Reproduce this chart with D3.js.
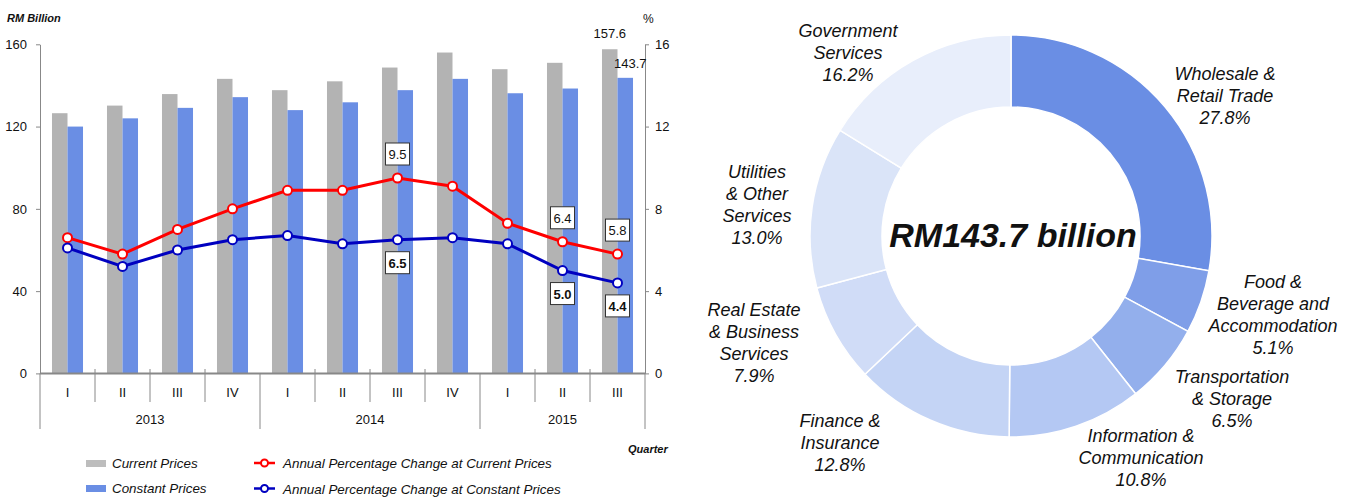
<!DOCTYPE html>
<html>
<head>
<meta charset="utf-8">
<script src="https://cdn.jsdelivr.net/npm/d3@7"></script>
<style>
body { margin: 0; background: #fff; }
svg text { font-family: "Liberation Sans", Arial, sans-serif; fill: #111; }
svg text.narrow { font-family: "Liberation Sans Narrow", "Arial Narrow", "Liberation Sans", sans-serif; }
</style>
</head>
<body>
<script>
/*
data
*/
var quarters = ["I", "II", "III", "IV", "I", "II", "III", "IV", "I", "II", "III"];
var quarterYear = ["2013", "2013", "2013", "2013", "2014", "2014", "2014", "2014", "2015", "2015", "2015"];
var currentPrices = [126.5, 130.2, 135.8, 143.2, 137.7, 142.0, 148.7, 156.0, 147.9, 151.0, 157.6];
var constantPrices = [120.0, 124.0, 129.1, 134.3, 128.0, 131.8, 137.7, 143.2, 136.2, 138.5, 143.7];
var pctCurrent = [6.6, 5.8, 7.0, 8.0, 8.9, 8.9, 9.5, 9.1, 7.3, 6.4, 5.8];
var pctConstant = [6.1, 5.2, 6.0, 6.5, 6.7, 6.3, 6.5, 6.6, 6.3, 5.0, 4.4];
var boxedPoints = [6, 9, 10];
var leftTicks = [0, 40, 80, 120, 160];
var rightTicks = [0, 4, 8, 12, 16];

var sectors = [
  ["Wholesale &", "Retail Trade"],
  ["Food &", "Beverage and", "Accommodation"],
  ["Transportation", "& Storage"],
  ["Information &", "Communication"],
  ["Finance &", "Insurance"],
  ["Real Estate", "& Business", "Services"],
  ["Utilities", "& Other", "Services"],
  ["Government", "Services"]
];
var shares = [27.8, 5.1, 6.5, 10.8, 12.8, 7.9, 13.0, 16.2];
var centreTotal = "RM143.7 billion";

// layout only
var sectorColors = ["#6a8ee4", "#7f9ee8", "#93afec", "#b4c8f3", "#c4d4f5", "#d0dcf7", "#dae4f8", "#e8eefb"];
var labelOffset = [[214, -140], [262, 79], [221, 163], [130, 222], [-171, 207], [-257, 107], [-254, -31], [-163, -183]];

var width = 1354,
    height = 497;

var svg = d3.select("body").append("svg")
    .attr("width", width)
    .attr("height", height);

/*
left chart
*/
var x = d3.scaleBand()
    .domain(d3.range(quarters.length))
    .range([40, 645])
    .paddingInner(0.436)
    .paddingOuter(0.218);

var xs = d3.scaleBand()
    .domain(["current", "constant"])
    .range([0, x.bandwidth()]);

var y = d3.scaleLinear().domain([0, 160]).range([373.4, 44.3]);
var y2 = d3.scaleLinear().domain([0, 16]).range([373.4, 44.3]);

function cx(i) { return x(i) + x.bandwidth() / 2; }

var bars = svg.append("g");
bars.selectAll(".cur")
    .data(currentPrices)
    .enter().append("rect")
    .attr("x", function(d, i) { return x(i) + xs("current"); })
    .attr("y", function(d) { return y(d); })
    .attr("width", xs.bandwidth())
    .attr("height", function(d) { return y(0) - y(d); })
    .attr("fill", "#b3b3b3");

bars.selectAll(".con")
    .data(constantPrices)
    .enter().append("rect")
    .attr("x", function(d, i) { return x(i) + xs("constant"); })
    .attr("y", function(d) { return y(d); })
    .attr("width", xs.bandwidth())
    .attr("height", function(d) { return y(0) - y(d); })
    .attr("fill", "#6a8ee4");

// axes
var leftAxis = svg.append("g")
    .attr("transform", "translate(40,0)")
    .call(d3.axisLeft(y).tickValues(leftTicks).tickSizeInner(4).tickSizeOuter(0).tickPadding(9));
var rightAxis = svg.append("g")
    .attr("transform", "translate(645,0)")
    .call(d3.axisRight(y2).tickValues(rightTicks).tickSizeInner(4).tickSizeOuter(0).tickPadding(6));

[leftAxis, rightAxis].forEach(function(a) {
  a.select(".domain").attr("stroke", "#888");
  a.selectAll(".tick line").attr("stroke", "#888");
  a.selectAll(".tick text")
    .attr("class", "narrow")
    .style("font-size", "13px")
    .attr("fill", "#111");
});

// category axis
var cat = svg.append("g");
cat.append("line")
    .attr("x1", 40).attr("x2", 645)
    .attr("y1", y(0)).attr("y2", y(0))
    .attr("stroke", "#888").attr("stroke-width", 2);

[40, 645].forEach(function(px) {
  cat.append("line")
      .attr("x1", px).attr("x2", px)
      .attr("y1", y(0)).attr("y2", 429)
      .attr("stroke", "#888");
});

d3.range(1, quarters.length).forEach(function(i) {
  var bx = (x(i - 1) + x.bandwidth() + x(i)) / 2;
  var yearEdge = quarterYear[i] != quarterYear[i - 1];
  cat.append("line")
      .attr("x1", bx).attr("x2", bx)
      .attr("y1", yearEdge ? y(0) : 369)
      .attr("y2", yearEdge ? 429 : 402)
      .attr("stroke", "#888");
});

cat.selectAll(".q")
    .data(quarters)
    .enter().append("text")
    .attr("class", "narrow")
    .attr("x", function(d, i) { return cx(i); })
    .attr("y", 397)
    .attr("text-anchor", "middle")
    .style("font-size", "13px")
    .text(function(d) { return d; });

var yearList = Array.from(new Set(quarterYear));
cat.selectAll(".yr")
    .data(yearList)
    .enter().append("text")
    .attr("class", "narrow")
    .attr("x", function(yr) {
      var idx = d3.range(quarters.length).filter(function(i) { return quarterYear[i] == yr; });
      var first = idx[0], last = idx[idx.length - 1];
      var left = first == 0 ? 40 : (x(first - 1) + x.bandwidth() + x(first)) / 2;
      var right = last == quarters.length - 1 ? 645 : (x(last) + x.bandwidth() + x(last + 1)) / 2;
      return (left + right) / 2;
    })
    .attr("y", 424)
    .attr("text-anchor", "middle")
    .style("font-size", "13px")
    .text(function(d) { return d; });

// titles
svg.append("text")
    .attr("x", 7).attr("y", 22)
    .style("font-size", "11px").style("font-weight", "bold").style("font-style", "italic")
    .text("RM Billion");
svg.append("text")
    .attr("x", 643).attr("y", 23)
    .style("font-size", "12px")
    .text("%");
svg.append("text")
    .attr("x", 628).attr("y", 453)
    .style("font-size", "11px").style("font-weight", "bold").style("font-style", "italic")
    .text("Quarter");

// lines
function drawLine(values, color) {
  var line = d3.line()
      .x(function(d, i) { return cx(i); })
      .y(function(d) { return y2(d); });
  svg.append("path")
      .datum(values)
      .attr("d", line)
      .attr("fill", "none")
      .attr("stroke", color)
      .attr("stroke-width", 3);
  svg.append("g").selectAll("circle")
      .data(values)
      .enter().append("circle")
      .attr("cx", function(d, i) { return cx(i); })
      .attr("cy", function(d) { return y2(d); })
      .attr("r", 4.5)
      .attr("fill", "#fff")
      .attr("stroke", color)
      .attr("stroke-width", 2);
}
drawLine(pctCurrent, "#ff0000");
drawLine(pctConstant, "#0000c0");

function valueBox(px, py, txt, bold) {
  var g = svg.append("g").attr("transform", "translate(" + px + "," + py + ")");
  g.append("rect")
      .attr("x", -12).attr("y", -11)
      .attr("width", 24).attr("height", 22)
      .attr("fill", "#fff")
      .attr("stroke", "#333");
  g.append("text")
      .attr("class", "narrow")
      .attr("text-anchor", "middle")
      .attr("y", 5)
      .style("font-size", "13px")
      .style("font-weight", bold ? "bold" : "normal")
      .text(txt);
}
boxedPoints.forEach(function(i) {
  valueBox(cx(i), y2(pctCurrent[i]) - 24, pctCurrent[i].toFixed(1), false);
  valueBox(cx(i), y2(pctConstant[i]) + 23, pctConstant[i].toFixed(1), true);
});

// last bar values
var lastI = quarters.length - 1;
svg.append("text")
    .attr("class", "narrow")
    .attr("x", x(lastI) + xs("current") + xs.bandwidth() / 2)
    .attr("y", y(currentPrices[lastI]) - 11)
    .attr("text-anchor", "middle")
    .style("font-size", "13px")
    .text(currentPrices[lastI].toFixed(1));
svg.append("text")
    .attr("class", "narrow")
    .attr("x", x(lastI) + xs("constant") + xs.bandwidth() / 2 + 5)
    .attr("y", y(constantPrices[lastI]) - 10)
    .attr("text-anchor", "middle")
    .style("font-size", "13px")
    .text(constantPrices[lastI].toFixed(1));

// legend
var legend = svg.append("g").style("font-size", "13.4px").style("font-style", "italic");
legend.append("rect").attr("x", 86).attr("y", 460).attr("width", 20).attr("height", 7).attr("fill", "#bdbdbd");
legend.append("text").attr("x", 112).attr("y", 468).text("Current Prices");
legend.append("rect").attr("x", 86).attr("y", 485).attr("width", 20).attr("height", 7).attr("fill", "#6a8ee4");
legend.append("text").attr("x", 112).attr("y", 493).text("Constant Prices");

[["#ff0000", 463, "Annual Percentage Change at Current Prices"],
 ["#0000c0", 488.5, "Annual Percentage Change at Constant Prices"]].forEach(function(r) {
  legend.append("line").attr("x1", 254).attr("x2", 275).attr("y1", r[1]).attr("y2", r[1])
      .attr("stroke", r[0]).attr("stroke-width", 2.5);
  legend.append("circle").attr("cx", 264.5).attr("cy", r[1]).attr("r", 3.5)
      .attr("fill", "#fff").attr("stroke", r[0]).attr("stroke-width", 2);
  legend.append("text").attr("x", 283).attr("y", r[1] + 5).text(r[2]);
});

/*
donut
*/
var centre = [1011, 236];
var pie = d3.pie().sort(null).value(function(d) { return d; });
var arc = d3.arc().innerRadius(129).outerRadius(201);

var donut = svg.append("g").attr("transform", "translate(" + centre[0] + "," + centre[1] + ")");
donut.selectAll("path")
    .data(pie(shares))
    .enter().append("path")
    .attr("d", arc)
    .attr("fill", function(d, i) { return sectorColors[i]; })
    .attr("stroke", "#fff")
    .attr("stroke-width", 1.5);

donut.append("text")
    .attr("x", 2).attr("y", 11)
    .attr("text-anchor", "middle")
    .style("font-size", "34px").style("font-weight", "bold").style("font-style", "italic")
    .text(centreTotal);

var lineH = 21.7;
sectors.forEach(function(lines, i) {
  var all = lines.concat([shares[i].toFixed(1) + "%"]);
  var top = labelOffset[i][1] - (all.length - 1) * lineH / 2;
  var t = donut.append("text")
      .attr("text-anchor", "middle")
      .style("font-size", "18px").style("font-style", "italic");
  all.forEach(function(s, k) {
    t.append("tspan")
        .attr("x", labelOffset[i][0])
        .attr("y", top + k * lineH + 6)
        .text(s);
  });
});
</script>
</body>
</html>
